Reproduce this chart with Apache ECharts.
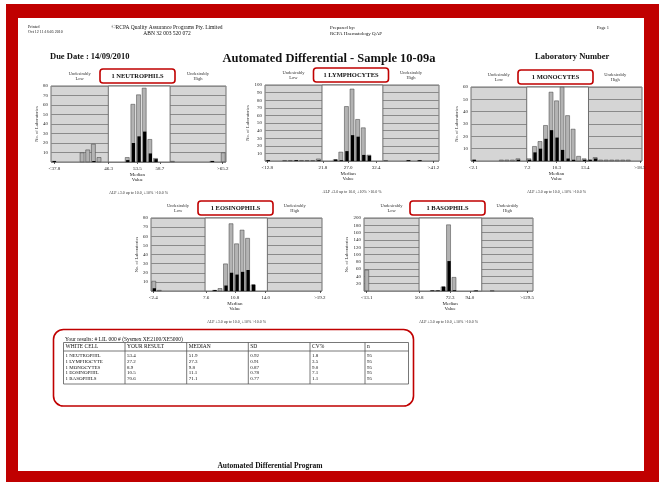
<!DOCTYPE html>
<html>
<head>
<meta charset="utf-8">
<script src="https://cdn.jsdelivr.net/npm/echarts@6/dist/echarts.min.js"></script>
<style>
  html, body { margin: 0; padding: 0; background: #fff; }
  #chart { width: 659px; height: 482px; }
</style>
</head>
<body>
<div id="chart"></div>
<script>
// ---- Histogram counts, 31 bins each: all laboratories / same-method group ----
const neutroAll   = [1,0,0,0,0,10,13,19,5,0,0,0,0,5,61,71,78,24,4,0,0,1,0,0,0,0,0,0,1,0,10];
const neutroGroup = [1,0,0,0,0,0,0,1,0,0,0,0,0,2,20,27,32,9,3,0,0,0,0,0,0,0,0,0,1,0,0];
const neutroTicks   = ['<37.8', '46.3', '53.5', '58.7', '>65.2'];
const neutroTickPos = [0.6, 10.2, 15.3, 19.3, 30.4];
const neutroLimits  = [10.15, 21.1];

const lymphAll   = [1,0,0,1,1,1,1,1,1,3,0,0,2,12,72,95,55,44,8,0,0,1,0,0,0,1,0,1,0,0,0];
const lymphGroup = [1,0,0,0,0,1,0,0,0,1,0,0,2,1,13,34,32,8,7,0,0,0,0,0,0,1,0,1,0,0,0];
const lymphTicks   = ['<12.8', '21.8', '27.0', '32.4', '>41.2'];
const lymphTickPos = [0.4, 10.3, 14.8, 19.8, 30.0];
const lymphLimits  = [10.15, 21.0];

const monoAll   = [1,0,0,0,0,1,1,1,2,0,2,12,16,29,56,49,60,37,26,4,2,1,3,1,1,1,1,1,1,0,0];
const monoGroup = [1,0,0,0,0,0,0,0,1,0,1,7,10,18,25,19,9,2,1,0,1,1,2,0,0,0,0,0,0,0,0];
const monoTicks   = ['<2.1', '7.2', '10.3', '13.4', '>18.5'];
const monoTickPos = [0.4, 10.2, 15.5, 20.7, 30.6];
const monoLimits  = [10.1, 21.3];

const eosAll   = [11,1,0,0,0,0,0,0,0,0,0,1,3,30,74,52,67,58,7,0,0,0,0,0,0,0,0,0,0,0,0];
const eosGroup = [3,0,0,0,0,0,0,0,0,0,0,1,0,6,20,18,21,23,7,0,0,0,0,0,0,0,0,0,0,0,0];
const eosTicks   = ['<2.4', '7.6', '10.8', '14.0', '>19.2'];
const eosTickPos = [0.4, 10.0, 15.2, 20.8, 30.6];
const eosLimits  = [9.8, 21.1];

const basoAll   = [58,0,0,0,0,0,0,0,0,0,0,0,2,2,12,182,38,0,0,0,1,0,0,1,0,0,0,0,0,0,0];
const basoGroup = [0,0,0,0,0,0,0,0,0,0,0,0,1,1,12,82,2,0,0,0,1,0,0,0,0,0,0,0,0,0,0];
const basoTicks   = ['<13.1', '50.8', '72.3', '94.0', '>129.5'];
const basoTickPos = [0.5, 10.1, 15.8, 19.4, 29.9];
const basoLimits  = [10.1, 21.6];

// ---- Results table ----
const cellNames   = ['1 NEUTROPHIL', '1 LYMPHOCYTE', '1 MONOCYTES', '1 EOSINOPHIL', '1 BASOPHILS'];
const yourResults = ['53.4', '27.2', '8.9', '10.5', '70.6'];
const medians     = ['51.9', '27.3', '9.8', '11.1', '71.1'];
const sds         = ['0.92', '0.91', '0.87', '0.78', '0.77'];
const cvs         = ['1.8', '3.5', '9.0', '7.1', '1.1'];
const counts      = ['95', '95', '95', '95', '95'];
const tableHeads  = ['WHITE CELL', 'YOUR RESULT', 'MEDIAN', 'SD', 'CV%', 'n'];

const BINS = 31;
const RED = '#c00000';
const SERIF = '"Liberation Serif", "DejaVu Serif", serif';

const panels = [
  { title: '1 NEUTROPHILS', all: neutroAll, grp: neutroGroup, ticks: neutroTicks, pos: neutroTickPos, lim: neutroLimits, yMax: 80,  yStep: 10, box: [51, 86, 175, 76] },
  { title: '1 LYMPHOCYTES', all: lymphAll,  grp: lymphGroup,  ticks: lymphTicks,  pos: lymphTickPos,  lim: lymphLimits,  yMax: 100, yStep: 10, box: [265, 85, 174, 76] },
  { title: '1 MONOCYTES',   all: monoAll,   grp: monoGroup,   ticks: monoTicks,   pos: monoTickPos,   lim: monoLimits,   yMax: 60,  yStep: 10, box: [471, 87, 171, 74] },
  { title: '1 EOSINOPHILS', all: eosAll,    grp: eosGroup,    ticks: eosTicks,    pos: eosTickPos,    lim: eosLimits,    yMax: 80,  yStep: 10, box: [151, 218, 171, 73] },
  { title: '1 BASOPHILS',   all: basoAll,   grp: basoGroup,   ticks: basoTicks,   pos: basoTickPos,   lim: basoLimits,   yMax: 200, yStep: 20, box: [364, 218, 169, 73] }
];

const toBars = arr => arr.map((v, i) => [i + 0.5, v]).filter(d => d[1] > 0);

const grids = [], xAxes = [], yAxes = [], series = [];
panels.forEach((p, k) => {
  const [l, t, w, h] = p.box;
  grids.push({ left: l, top: t, width: w, height: h, show: true,
    backgroundColor: '#d5d5d5', borderColor: '#6e6e6e', borderWidth: 1 });
  xAxes.push({
    gridIndex: k, type: 'value', min: 0, max: BINS,
    axisLine: { show: false }, splitLine: { show: false },
    axisTick: { show: true, customValues: p.pos, length: 2, lineStyle: { color: '#333', width: 0.8 } },
    axisLabel: {
      customValues: p.pos, fontSize: 5, fontFamily: SERIF, color: '#222', margin: 4, lineHeight: 5.5,
      formatter: v => {
        const i = p.pos.findIndex(q => Math.abs(q - v) < 1e-6);
        if (i < 0) return '';
        return i === 2 ? p.ticks[i] + '\nMedian\nValue' : p.ticks[i];
      }
    }
  });
  yAxes.push({
    gridIndex: k, type: 'value', min: 0, max: p.yMax, interval: p.yStep,
    axisLine: { show: false }, axisTick: { show: false },
    splitLine: { show: true, lineStyle: { color: '#8a8a8a', width: 1 } },
    axisLabel: { fontSize: 5, fontFamily: SERIF, color: '#222', margin: 3,
      formatter: v => (v === 0 ? '' : String(v)) },
    name: 'No. of Laboratories', nameLocation: 'middle', nameRotate: 90, nameGap: 12,
    nameTextStyle: { fontSize: 4.5, fontFamily: SERIF, color: '#333' }
  });
  series.push({
    type: 'bar', xAxisIndex: k, yAxisIndex: k, data: toBars(p.all),
    barWidth: 4.5, barGap: '-75%', silent: true,
    itemStyle: { color: '#b3b3b3', borderColor: '#3a3a3a', borderWidth: 0.5 },
    markArea: { silent: true,
      itemStyle: { color: '#ffffff', borderColor: '#6e6e6e', borderWidth: 1 },
      data: [[{ xAxis: p.lim[0] }, { xAxis: p.lim[1] }]] }
  });
  series.push({
    type: 'bar', xAxisIndex: k, yAxisIndex: k, data: toBars(p.grp),
    barWidth: 3.3, barGap: '-75%', silent: true,
    itemStyle: { color: '#000' }
  });
});

// ---- Page decoration and text ----
const g = [];
const text = (x, y, s, font, opts = {}) => g.push({
  type: 'text', x, y, silent: true,
  style: Object.assign({ text: s, font, fill: '#111', align: 'left', verticalAlign: 'middle' }, opts)
});
const line = (x1, y1, x2, y2, stroke = '#555', lw = 0.8) => g.push({
  type: 'line', silent: true, shape: { x1, y1, x2, y2 }, style: { stroke, lineWidth: lw }
});

// red frame with white page
g.push({ type: 'rect', silent: true, z: -10, shape: { x: 6, y: 4, width: 653, height: 478 }, style: { fill: RED } });
g.push({ type: 'rect', silent: true, z: -9, shape: { x: 18, y: 18, width: 626, height: 453 }, style: { fill: '#fff' } });

// header
const small = '4px ' + SERIF;
text(28, 27, 'Printed', small);
text(28, 32, 'Oct 12 11:16:05 2010', small);
text(167, 28, '\u00A9RCPA Quality Assurance Programs Pty. Limited', '5.5px ' + SERIF, { align: 'center' });
text(167, 34, 'ABN 32 003 520 072', '5.5px ' + SERIF, { align: 'center' });
text(330, 28, 'Prepared by:', '5px ' + SERIF);
text(330, 34, 'RCPA Haematology QAP', '5px ' + SERIF);
text(597, 28, 'Page 1', '4.5px ' + SERIF);
text(50, 57, 'Due Date : 14/09/2010', 'bold 8.5px ' + SERIF);
text(329, 59, 'Automated Differential - Sample 10-09a', 'bold 12.5px ' + SERIF, { align: 'center' });
text(535, 57, 'Laboratory Number', 'bold 8.5px ' + SERIF);

// panel captions
panels.forEach(p => {
  const [l, t, w, h] = p.box;
  const cx = l + w / 2 - 1;
  g.push({ type: 'rect', silent: true,
    shape: { x: cx - 37.5, y: t - 17, width: 75, height: 14, r: 3 },
    style: { fill: '#fff', stroke: RED, lineWidth: 1.6 } });
  text(cx, t - 10, p.title, 'bold 6.5px ' + SERIF, { align: 'center' });
  const lowX = l + (p.lim[0] / 2) / BINS * w;
  const highX = l + ((p.lim[1] + BINS) / 2) / BINS * w;
  text(lowX, t - 10, 'Undesirably\nLow', '4.5px ' + SERIF, { align: 'center', fill: '#333', lineHeight: 5 });
  text(highX, t - 10, 'Undesirably\nHigh', '4.5px ' + SERIF, { align: 'center', fill: '#333', lineHeight: 5 });
  text(l + w / 2, t + h + 31, 'ALP \u00B13.0 up to 10.0, \u00B110% >10.0 %', '4px ' + SERIF, { align: 'center', fill: '#333' });
});

// results table
g.push({ type: 'rect', silent: true, shape: { x: 53.5, y: 329.5, width: 360, height: 76.5, r: 10 },
  style: { fill: 'none', stroke: RED, lineWidth: 1.6 } });
text(65, 340, 'Your results: # LIL 000 # (Sysmex XE2100/XE5000)', '5.5px ' + SERIF);
const colX = [63.5, 125, 186.7, 248.3, 310, 365, 408.5];
const tTop = 342.5, tHead = 351, tBot = 384;
g.push({ type: 'rect', silent: true, shape: { x: colX[0], y: tTop, width: colX[6] - colX[0], height: tBot - tTop },
  style: { fill: 'none', stroke: '#555', lineWidth: 0.8 } });
line(colX[0], tHead, colX[6], tHead);
for (let c = 1; c < 6; c++) line(colX[c], tTop, colX[c], tBot);
tableHeads.forEach((h, c) => text(colX[c] + 2, (tTop + tHead) / 2, h, '5.5px ' + SERIF));
const cols = [cellNames, yourResults, medians, sds, cvs, counts];
cellNames.forEach((_, r) => {
  const y = 356 + r * 5.7;
  cols.forEach((col, c) => text(colX[c] + 2, y, col[r], '5px ' + SERIF));
});

// footer
text(270, 466, 'Automated Differential Program', 'bold 7.5px ' + SERIF, { align: 'center' });

const chart = echarts.init(document.getElementById('chart'), null, { renderer: 'canvas' });
chart.setOption({
  animation: false,
  backgroundColor: '#fff',
  grid: grids, xAxis: xAxes, yAxis: yAxes, series,
  graphic: { elements: g }
});
</script>
</body>
</html>
